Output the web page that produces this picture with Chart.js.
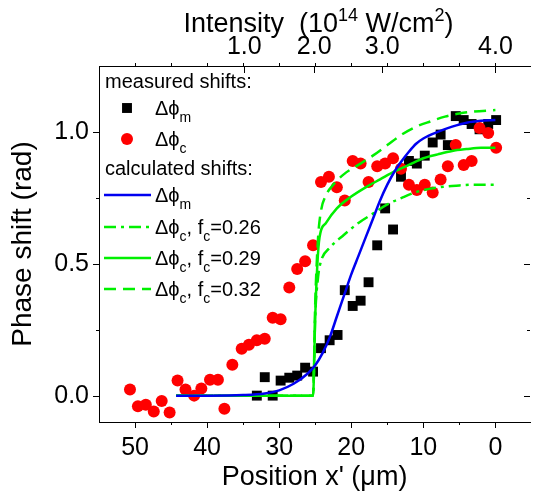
<!DOCTYPE html>
<html>
<head>
<meta charset="utf-8">
<script src="https://cdn.jsdelivr.net/npm/chart.js@4/dist/chart.umd.min.js"></script>
<style>
  html, body { margin: 0; padding: 0; background: #fff; }
</style>
</head>
<body>
<canvas id="chart" width="537" height="497"></canvas>
<script>
// measured shifts, black squares (dphi_m)
const measX = [33.1, 32.0, 30.9, 29.8, 28.6, 27.5, 26.4, 25.3, 24.2, 23.0, 21.9, 20.9, 19.8, 18.7, 17.6, 16.4,
               15.3, 14.2, 13.1, 12.0, 10.9, 9.8, 8.7, 7.6, 6.6, 5.5, 4.4, 3.3, 2.2, 1.0, -0.1];
const measY = [0.00, 0.07, 0.00, 0.057, 0.068, 0.076, 0.106, 0.091, 0.18, 0.21, 0.23, 0.40, 0.34, 0.36, 0.43, 0.57,
               0.71, 0.63, 0.83, 0.89, 0.88, 0.91, 0.96, 0.99, 0.95, 1.06, 1.045, 1.03, 1.01, 1.03, 1.045];

// measured shifts, red circles (dphi_c)
const circX = [50.7, 49.6, 48.5, 47.4, 46.3, 45.2, 44.1, 43.0, 41.8, 40.8, 39.6, 38.5, 37.6, 36.5, 35.2, 34.2,
               33.1, 32.0, 30.9, 29.8, 28.6, 27.5, 26.4, 25.3, 24.2, 23.1, 22.0, 20.9, 19.8, 18.7, 17.6, 16.4,
               15.3, 14.2, 13.1, 12.0, 10.9, 9.8, 8.7, 7.6, 6.6, 5.5, 4.4, 3.3, 2.2, 1.0, -0.1];
const circY = [0.023, -0.04, -0.035, -0.06, -0.02, -0.064, 0.057, 0.023, 0.0, 0.027, 0.06, 0.06, -0.05, 0.117, 0.178, 0.193,
               0.21, 0.216, 0.295, 0.29, 0.41, 0.48, 0.51, 0.57, 0.81, 0.83, 0.79, 0.74, 0.89, 0.88, 0.81, 0.87,
               0.88, 0.90, 0.86, 0.80, 0.78, 0.80, 0.77, 0.82, 0.87, 0.95, 0.875, 0.89, 1.015, 0.996, 0.94];

// calculated shifts
const blueX = [44.3, 40, 35, 32, 30, 28, 26, 25, 24, 23, 22, 21, 20, 19, 18, 17, 16, 15, 14, 13, 12, 11, 10, 8, 6, 4, 2, 0];
const blueY = [0, 0, 0.002, 0.008, 0.02, 0.045, 0.085, 0.115, 0.16, 0.22, 0.30, 0.38, 0.46, 0.53, 0.60, 0.67, 0.74, 0.80,
               0.85, 0.89, 0.925, 0.955, 0.975, 1.0, 1.02, 1.035, 1.042, 1.045];

const g26X = [44.3, 25.3, 25.0, 24.6, 24.2, 23, 21, 19, 17, 15, 13, 11, 9, 7, 5, 3, 0];
const g26Y = [0, 0, 0.3, 0.45, 0.51, 0.56, 0.61, 0.655, 0.69, 0.725, 0.75, 0.772, 0.785, 0.793, 0.797, 0.80, 0.80];

const g29X = [44.3, 25.3, 25.0, 24.7, 24.4, 23.5, 22, 20, 18, 16, 14, 12, 10, 8, 6, 4, 2, 0];
const g29Y = [0, 0, 0.3, 0.5, 0.6, 0.655, 0.71, 0.755, 0.79, 0.82, 0.85, 0.875, 0.9, 0.915, 0.928, 0.935, 0.94, 0.94];

const g32X = [44.3, 25.3, 25.0, 24.6, 24.2, 23.5, 22.5, 21, 19, 17, 15, 13, 11, 9, 7, 5, 3, 0];
const g32Y = [0, 0, 0.35, 0.6, 0.7, 0.76, 0.80, 0.84, 0.875, 0.91, 0.95, 0.99, 1.02, 1.04, 1.058, 1.07, 1.077, 1.083];

// labels and ticks
const seriesNames = ['Δϕ_m', 'Δϕ_c', 'Δϕ_m', 'Δϕ_c, f_c=0.26', 'Δϕ_c, f_c=0.29', 'Δϕ_c, f_c=0.32'];
const legendHeads = ['measured shifts:', 'calculated shifts:'];
const xTickValues = [50, 40, 30, 20, 10, 0];
const xMinorValues = [50, 45, 40, 35, 30, 25, 20, 15, 10, 5, 0];
const yTickValues = [0, 0.5, 1.0];
const yMinorValues = [0, 0.25, 0.5, 0.75, 1.0];
const intensityPos = [34.84, 25.14, 15.71, 0];
const intensityLabels = ['1.0', '2.0', '3.0', '4.0'];
const xTitle = "Position x' (μm)";
const yTitle = 'Phase shift (rad)';
const topTitle = 'Intensity  (10^{14} W/cm^{2})';

const FAMILY = 'Arial, "Liberation Sans", Helvetica, sans-serif';
const BLUE = '#0000f0';
const GREEN = '#00f000';
const LEG_FONT = 20;

function pts(xs, ys) {
  return xs.map((x, i) => ({ x: x, y: ys[i] }));
}

// text with _sub and ^sup parts
function drawRich(ctx, text, x, y, size, align) {
  const parts = [];
  let i = 0, buf = '';
  while (i < text.length) {
    const c = text[i];
    if (c === '_' || c === '^') {
      if (buf) { parts.push({ t: buf, k: 0 }); buf = ''; }
      let s;
      if (text[i + 1] === '{') {
        const j = text.indexOf('}', i);
        s = text.slice(i + 2, j);
        i = j + 1;
      } else {
        s = text[i + 1];
        i += 2;
      }
      parts.push({ t: s, k: c === '_' ? 1 : -1 });
    } else {
      buf += c;
      i++;
    }
  }
  if (buf) parts.push({ t: buf, k: 0 });
  const small = Math.round(size * 0.68);
  let w = 0;
  parts.forEach(p => {
    ctx.font = (p.k ? small : size) + 'px ' + FAMILY;
    p.w = ctx.measureText(p.t).width;
    w += p.w;
  });
  let cx = align === 'center' ? x - w / 2 : x;
  ctx.textAlign = 'left';
  ctx.textBaseline = 'alphabetic';
  parts.forEach(p => {
    ctx.font = (p.k ? small : size) + 'px ' + FAMILY;
    const dy = p.k === 1 ? size * 0.36 : (p.k === -1 ? -size * 0.42 : 0);
    ctx.fillText(p.t, cx, y + dy);
    cx += p.w;
  });
}

// tick marks on all four sides, plus the top title
const tickPlugin = {
  id: 'frameTicks',
  afterDraw(chart) {
    const { ctx, chartArea: a } = chart;
    const sx = chart.scales.x, sy = chart.scales.y;
    ctx.save();
    ctx.strokeStyle = '#000';
    ctx.lineWidth = 1;
    ctx.beginPath();
    xMinorValues.forEach(v => {
      const px = Math.round(sx.getPixelForValue(v)) + 0.5;
      const len = v % 10 === 0 ? 6 : 3;
      ctx.moveTo(px, a.bottom); ctx.lineTo(px, a.bottom + len);
      ctx.moveTo(px, a.top); ctx.lineTo(px, a.top - 3);
    });
    intensityPos.forEach(v => {
      const px = Math.round(sx.getPixelForValue(v)) + 0.5;
      ctx.moveTo(px, a.top); ctx.lineTo(px, a.top + 7);
    });
    yMinorValues.forEach(v => {
      const py = Math.round(sy.getPixelForValue(v)) + 0.5;
      const len = yTickValues.includes(v) ? 6 : 3;
      ctx.moveTo(a.left, py); ctx.lineTo(a.left - len, py);
      ctx.moveTo(a.right, py); ctx.lineTo(a.right - len, py);
    });
    ctx.stroke();
    ctx.fillStyle = '#000';
    drawRich(ctx, topTitle, (a.left + a.right) / 2 + 4, 32, 27, 'center');
    ctx.restore();
  }
};

// legend inside the plot
const legendRows = [
  { head: 0, dy: 22 },
  { ds: 0, dy: 42 },
  { ds: 1, dy: 73 },
  { head: 1, dy: 109 },
  { ds: 2, dy: 129 },
  { ds: 3, dy: 161 },
  { ds: 4, dy: 192 },
  { ds: 5, dy: 223 }
];

const legendPlugin = {
  id: 'inLegend',
  afterDraw(chart) {
    const { ctx, chartArea: a } = chart;
    const x0 = a.left + 6;
    ctx.save();
    ctx.fillStyle = '#000';
    legendRows.forEach(r => {
      const y = a.top + r.dy;
      if (r.head !== undefined) {
        drawRich(ctx, legendHeads[r.head], x0, y, LEG_FONT, 'left');
        return;
      }
      const ds = chart.data.datasets[r.ds];
      const mx = x0 + 22;
      if (ds.showLine) {
        ctx.save();
        ctx.strokeStyle = ds.borderColor;
        ctx.lineWidth = ds.borderWidth;
        ctx.setLineDash(ds.borderDash || []);
        ctx.beginPath();
        ctx.moveTo(x0 - 1, y);
        ctx.lineTo(x0 + 46, y);
        ctx.stroke();
        ctx.restore();
      } else {
        ctx.save();
        ctx.fillStyle = ds.backgroundColor;
        ctx.beginPath();
        if (ds.pointStyle === 'rect') {
          const s = ds.pointRadius * Math.SQRT1_2;
          ctx.rect(mx - s, y - s, 2 * s, 2 * s);
        } else {
          ctx.arc(mx, y, ds.pointRadius, 0, Math.PI * 2);
        }
        ctx.fill();
        ctx.restore();
      }
      ctx.fillStyle = '#000';
      drawRich(ctx, seriesNames[r.ds], x0 + 50, y + 7, LEG_FONT, 'left');
    });
    ctx.restore();
  }
};

const lineBase = {
  showLine: true,
  pointRadius: 0,
  borderWidth: 2.5,
  cubicInterpolationMode: 'monotone',
  fill: false,
  order: 0
};

new Chart(document.getElementById('chart'), {
  type: 'scatter',
  data: {
    datasets: [
      { label: seriesNames[0], data: pts(measX, measY), pointStyle: 'rect', pointRadius: 7,
        backgroundColor: '#000', borderWidth: 0, showLine: false, order: 2 },
      { label: seriesNames[1], data: pts(circX, circY), pointStyle: 'circle', pointRadius: 6,
        backgroundColor: '#ff0000', borderWidth: 0, showLine: false, order: 1 },
      Object.assign({ label: seriesNames[2], data: pts(blueX, blueY), borderColor: BLUE }, lineBase),
      Object.assign({ label: seriesNames[3], data: pts(g26X, g26Y), borderColor: GREEN, borderDash: [12, 5, 3, 5] }, lineBase),
      Object.assign({ label: seriesNames[4], data: pts(g29X, g29Y), borderColor: GREEN }, lineBase),
      Object.assign({ label: seriesNames[5], data: pts(g32X, g32Y), borderColor: GREEN, borderDash: [12, 7] }, lineBase)
    ]
  },
  options: {
    responsive: false,
    animation: false,
    devicePixelRatio: 1,
    layout: { padding: 0 },
    plugins: { legend: { display: false }, tooltip: { enabled: false } },
    scales: {
      x: {
        type: 'linear', position: 'bottom', reverse: true, min: -4.8, max: 55,
        afterBuildTicks: s => { s.ticks = xTickValues.map(v => ({ value: v })); },
        afterFit: s => { s.height = 75; },
        grid: { display: true, drawOnChartArea: false, drawTicks: false },
        border: { display: true, color: '#000', width: 1 },
        ticks: { color: '#000', font: { size: 25, family: FAMILY }, padding: 11, maxRotation: 0, autoSkip: false,
                 callback: v => String(v) },
        title: { display: true, text: xTitle, color: '#000', font: { size: 27, family: FAMILY },
                 padding: { top: 0, bottom: 3 } }
      },
      x2: {
        type: 'linear', position: 'top', reverse: true, min: -4.8, max: 55,
        afterBuildTicks: s => { s.ticks = intensityPos.map(v => ({ value: v })); },
        afterFit: s => { s.height = 66; },
        grid: { display: true, drawOnChartArea: false, drawTicks: false },
        border: { display: true, color: '#000', width: 1 },
        ticks: { color: '#000', font: { size: 25, family: FAMILY }, padding: 4, maxRotation: 0, autoSkip: false,
                 callback: v => intensityLabels[intensityPos.indexOf(v)] }
      },
      y: {
        type: 'linear', position: 'left', min: -0.1, max: 1.25,
        afterBuildTicks: s => { s.ticks = yTickValues.map(v => ({ value: v })); },
        afterFit: s => { s.width = 99; },
        grid: { display: true, drawOnChartArea: false, drawTicks: false },
        border: { display: true, color: '#000', width: 1 },
        ticks: { color: '#000', font: { size: 25, family: FAMILY }, padding: 10, callback: v => v.toFixed(1) },
        title: { display: true, text: yTitle, color: '#000', font: { size: 28, family: FAMILY },
                 padding: { top: 6, bottom: 0 } }
      }
    }
  },
  plugins: [tickPlugin, legendPlugin]
});
</script>
</body>
</html>
